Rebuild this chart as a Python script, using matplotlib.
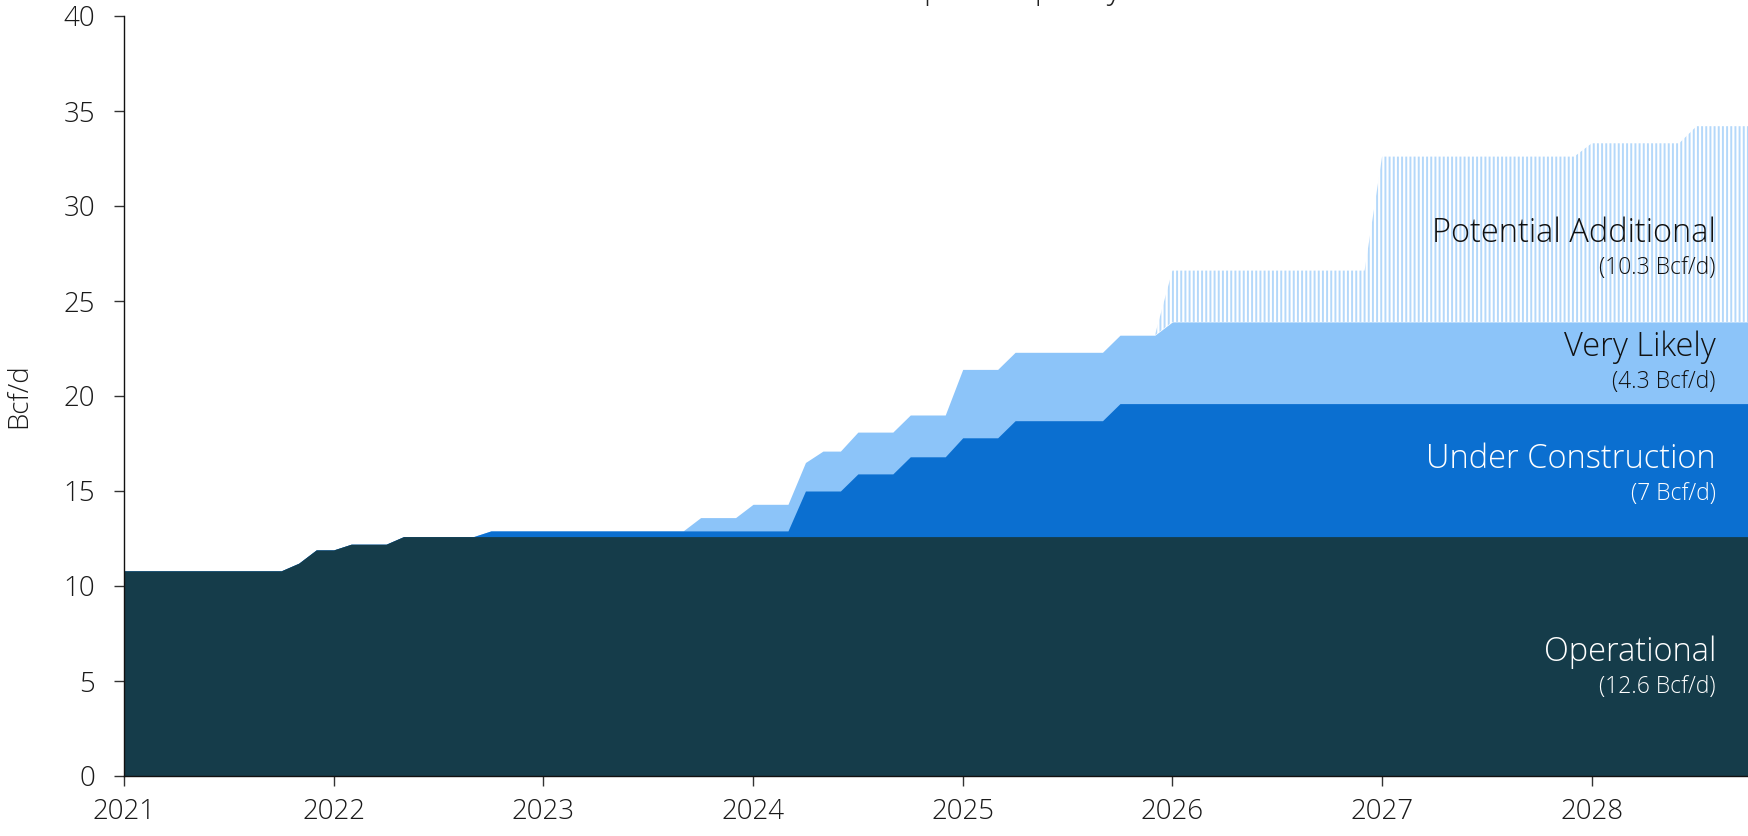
import numpy as np
import matplotlib
matplotlib.use("Agg")
import matplotlib.pyplot as plt
import matplotlib.transforms as mtransforms

# ---------------- data (monthly, Jan 2021 .. Oct 2028) ----------------
start_year = 2021
operational = ([10.8] * 10 + [11.2, 11.9, 11.9, 12.2, 12.2, 12.2] + [12.6] * 78)
under_construction = ([0.0] * 21 + [0.3] * 18 + [2.4] * 3 + [3.3] * 3 + [4.2] * 3
                      + [5.2] * 3 + [6.1] * 6 + [7.0] * 37)
very_likely = ([0.0] * 33 + [0.7] * 3 + [1.4] * 3 + [1.5] + [2.1] * 2 + [2.2] * 3
               + [2.2] * 3 + [3.6] * 3 + [3.6] * 6 + [3.6] * 3 + [4.3] * 34)
potential_additional = ([0.0] * 60 + [2.7] * 12 + [8.7] * 12 + [9.4] * 6 + [10.3] * 4)

layer_names = ["Operational", "Under Construction", "Very Likely", "Potential Additional"]
layer_notes = ["(12.6 Bcf/d)", "(7 Bcf/d)", "(4.3 Bcf/d)", "(10.3 Bcf/d)"]
year_ticks = [2021, 2022, 2023, 2024, 2025, 2026, 2027, 2028]
y_ticks = [0, 5, 10, 15, 20, 25, 30, 35, 40]
title = "U.S. LNG Export Capacity"
ylabel = "Bcf/d"

# ---------------- styling ----------------
plt.rcParams['font.family'] = ['Open Sans', 'DejaVu Sans']
plt.rcParams['hatch.linewidth'] = 1.4

c_op = "#153C4A"
c_uc = "#0B6FD0"
c_vl = "#8CC4F9"
c_pa = "#B4D8FA"

n = len(operational)
x = start_year + np.arange(n) / 12.0
op = np.array(operational)
uc = op + np.array(under_construction)
vl = uc + np.array(very_likely)
pa = vl + np.array(potential_additional)

fig = plt.figure(figsize=(17.49, 8.36), dpi=100)
ax = fig.add_axes([124 / 1749, 1 - 776 / 836, 1 - 124 / 1749, (776 - 16) / 836])

ax.fill_between(x, vl, pa, facecolor="white", edgecolor=c_pa,
                hatch="||||", linewidth=0, zorder=1)
ax.fill_between(x, 0, vl, color=c_vl, linewidth=0, zorder=2)
ax.fill_between(x, 0, uc, color=c_uc, linewidth=0, zorder=3)
ax.fill_between(x, 0, op, color=c_op, linewidth=0, zorder=4)

ax.set_xlim(x[0], x[-1])
ax.set_ylim(0, 40)
ax.set_xticks(year_ticks)
ax.set_xticklabels([str(y) for y in year_ticks])
ax.set_yticks(y_ticks)
ax.tick_params(axis='both', labelsize=20, length=7, width=1, color="#333333",
               labelcolor="#1a1a1a")
for lab in ax.get_xticklabels() + ax.get_yticklabels():
    lab.set_fontweight("light")
ax.tick_params(axis='y', pad=14)
ax.tick_params(axis='x', pad=9)
for s in ["top", "right"]:
    ax.spines[s].set_visible(False)
for s in ["left", "bottom"]:
    ax.spines[s].set_color("#111111")
    ax.spines[s].set_linewidth(1.0)
    ax.spines[s].set_zorder(6)

ax.set_ylabel(ylabel, fontsize=20, color="#1a1a1a", fontweight="light")
ax.yaxis.set_label_coords(-0.056, 0.5)

# Layer labels
trans = mtransforms.blended_transform_factory(ax.transAxes, ax.transData)
xr = (1716 - 124) / 1625
label_specs = [
    (3, 28.1, 26.4, "#111111"),
    (2, 22.1, 20.4, "#111111"),
    (1, 16.2, 14.5, "white"),
    (0, 6.05, 4.35, "white"),
]
for idx, yb, ys, col in label_specs:
    ax.text(xr, yb, layer_names[idx], transform=trans, ha="right", va="baseline",
            fontsize=23.5, color=col, fontweight="light", zorder=10)
    ax.text(xr, ys, layer_notes[idx], transform=trans, ha="right", va="baseline",
            fontsize=16.5, color=col, fontweight="light", zorder=10)

fig.text(0.535, 1 + 2 / 836, title, ha="center", va="baseline", fontsize=24,
         color="#222222", fontweight="light")

fig.savefig("out.png", dpi=100)
